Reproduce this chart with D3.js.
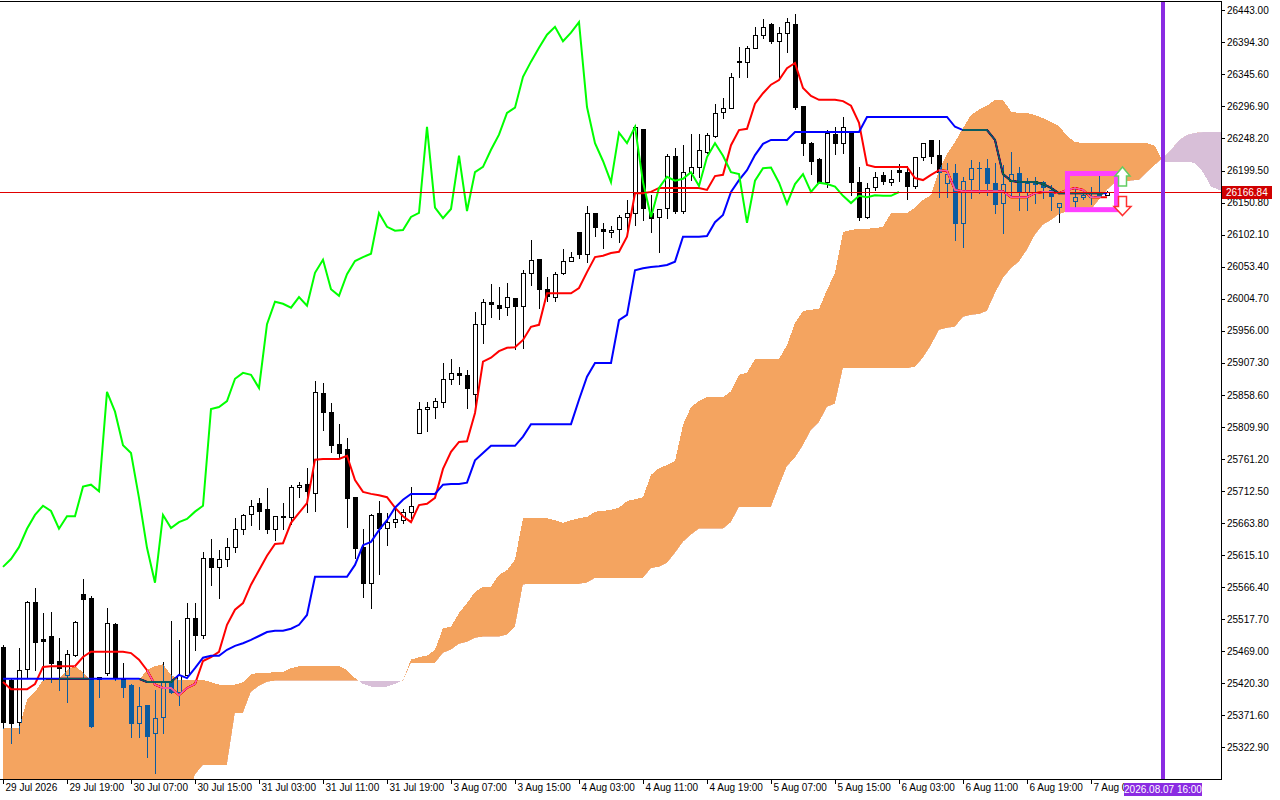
<!DOCTYPE html>
<html>
<head>
<meta charset="utf-8">
<script src="https://cdnjs.cloudflare.com/ajax/libs/d3/7.8.5/d3.min.js"></script>
<style>
html, body { margin: 0; padding: 0; background: #fff; }
svg { display: block; font-family: "Liberation Sans", Arial, sans-serif; }
</style>
</head>
<body>
<div id="grafico"></div>
<script>
// velas de 1 hora, barra 0 = 29 Jul 2026 11:00
const aberturas = [
25475,25425,25361,25442,25544,25487,25492,25454,25433,25463,
25556,25550,25427,25436,25510,25428,25418,25360,25387,25345,
25369,25424,25407,25433,25519,25494,25611,25597,25609,25627,
25655,25677,25694,25685,25655,25673,25673,25719,25723,25709,
25861,25833,25784,25776,25703,25627,25573,25679,25656,25665,
25668,25681,25801,25837,25840,25848,25883,25892,25889,25860,
25966,26000,25995,25992,26006,25994,26044,26065,26019,26007,
26044,26062,26106,26073,26135,26111,26106,26111,26129,26135,
26263,26135,26129,26143,26222,26138,26196,26205,26228,26252,
26289,26295,26366,26365,26386,26406,26422,26396,26409,26422,
26298,26241,26217,26182,26255,26241,26257,26182,26129,26175,
26193,26182,26200,26197,26176,26220,26246,26223,26181,26196,
26120,26187,26203,26203,26181,26150,26184,26196,26167,26184,
26182,26170,26144,26155,26153,26159,26159,26165,26162
];
const maximas = [
25478,25428,25474,25545,25565,25527,25529,25489,25471,25515,
25579,25553,25430,25535,25512,25451,25419,25415,25387,25410,
25452,25515,25486,25542,25542,25620,25639,25623,25641,25671,
25677,25699,25702,25717,25674,25694,25722,25726,25747,25880,
25877,25846,25814,25793,25703,25655,25677,25697,25679,25685,
25685,25719,25848,25848,25854,25907,25913,25901,25896,25985,
26004,26027,26023,26029,26006,26048,26094,26065,26038,26045,
26080,26076,26106,26146,26135,26120,26115,26132,26155,26269,
26263,26162,26141,26225,26234,26238,26255,26255,26257,26301,
26310,26348,26387,26389,26418,26430,26424,26418,26431,26437,
26298,26243,26219,26261,26266,26281,26257,26205,26181,26197,
26197,26200,26209,26206,26220,26241,26246,26246,26211,26209,
26190,26216,26213,26217,26211,26208,26228,26205,26188,26190,
26184,26178,26150,26170,26173,26165,26175,26193,26168
];
const minimas = [
25352,25329,25345,25428,25440,25425,25422,25410,25392,25461,
25428,25354,25399,25433,25425,25399,25339,25339,25308,25284,
25345,25405,25387,25432,25471,25489,25570,25550,25598,25620,
25647,25661,25655,25649,25638,25655,25662,25703,25681,25682,
25805,25772,25763,25658,25611,25551,25535,25586,25630,25658,
25664,25671,25800,25804,25823,25840,25875,25875,25839,25839,
25937,25977,25974,25980,25928,25930,26026,25991,26001,26001,
26042,26062,26067,26061,26100,26082,26099,26091,26105,26117,
26124,26106,26076,26127,26135,26135,26185,26190,26226,26251,
26279,26294,26342,26342,26386,26401,26393,26342,26380,26293,
26223,26194,26181,26175,26225,26226,26162,26124,26127,26170,
26179,26178,26184,26156,26173,26216,26211,26159,26159,26094,
26083,26158,26165,26162,26135,26105,26159,26140,26140,26150,
26158,26140,26121,26147,26143,26156,26149,26159,26162
];
const fechos = [
25361,25360,25440,25544,25483,25484,25451,25443,25465,25513,
25548,25355,25430,25512,25428,25415,25360,25386,25340,25367,
25422,25407,25433,25519,25494,25611,25597,25609,25627,25655,
25676,25690,25682,25655,25674,25674,25719,25722,25712,25863,
25833,25782,25770,25702,25626,25573,25676,25656,25665,25670,
25681,25690,25837,25840,25849,25883,25892,25889,25869,25966,
26000,25997,25991,26007,25994,26044,26064,26019,26009,26042,
26062,26068,26073,26135,26114,26108,26109,26129,26135,26266,
26143,26127,26141,26222,26138,26197,26205,26231,26254,26287,
26295,26342,26365,26386,26406,26418,26396,26409,26425,26296,
26241,26214,26182,26257,26241,26266,26182,26129,26173,26190,
26184,26187,26197,26176,26220,26241,26222,26197,26194,26120,
26184,26203,26204,26181,26149,26179,26194,26167,26181,26179,
26175,26161,26150,26161,26159,26162,26161,26161,26166.84
];

// Ichimoku: tenkan (vermelho), kijun (azul)
const tenkan = [
25422,25411,25411,25411,25419,25445,25446,25446,25446,25446,
25460,25468,25468,25468,25468,25468,25466,25456,25440,25418,
25413,25413,25402,25413,25419,25454,25460,25468,25509,25532,
25542,25570,25592,25614,25632,25633,25664,25679,25694,25760,
25761,25761,25761,25766,25729,25711,25708,25706,25703,25687,
25674,25665,25691,25693,25702,25746,25772,25787,25788,25831,
25909,25915,25925,25930,25931,25942,25962,25965,26013,26013,
26013,26013,26021,26045,26068,26070,26074,26076,26099,26165,
26165,26167,26173,26173,26173,26173,26173,26173,26170,26191,
26193,26238,26261,26263,26301,26317,26330,26337,26355,26363,
26325,26313,26307,26307,26307,26305,26298,26272,26208,26205,
26205,26205,26205,26205,26188,26185,26193,26200,26199,26170,
26168,26168,26168,26168,26168,26168,26159,26159,26159,26165,
26167,26167,26165,26170,26173,26170,26159,26159,26159
];
const kijun = [
25427,25427,25427,25427,25427,25427,25427,25427,25427,25427,
25427,25427,25427,25427,25427,25427,25427,25427,25422,25422,
25422,25422,25433,25428,25443,25459,25462,25462,25471,25477,
25481,25486,25492,25498,25500,25500,25503,25509,25524,25582,
25582,25582,25582,25582,25600,25630,25635,25653,25668,25687,
25699,25708,25708,25708,25708,25722,25723,25723,25725,25759,
25770,25781,25781,25781,25781,25795,25814,25814,25814,25814,
25814,25814,25851,25886,25907,25907,25907,25972,25980,26048,
26051,26053,26054,26056,26061,26099,26099,26099,26100,26121,
26132,26167,26185,26200,26223,26240,26246,26246,26246,26258,
26258,26258,26258,26258,26258,26258,26258,26258,26281,26281,
26281,26281,26281,26281,26281,26281,26281,26281,26281,26266,
26261,26261,26261,26261,26246,26194,26184,26182,26182,26182,
26179,26173,26165,26165,26165,26165,26165,26165,26165
];
// nuvem (senkou A e B), ja deslocada 26 barras para a frente
const senkouA = [
25352,25352,25352,25395,25407,25425,25427,25427,25440,25446,
25437,25425,25425,25425,25425,25425,25425,25425,25440,25446,
25449,25433,25425,25425,25425,25425,25422,25418,25418,25418,
25422,25434,25436,25436,25437,25437,25443,25446,25446,25446,
25446,25446,25446,25440,25428,25419,25415,25415,25415,25419,
25425,25456,25460,25462,25471,25504,25506,25527,25542,25559,
25567,25567,25585,25592,25608,25671,25671,25671,25671,25668,
25664,25668,25671,25673,25681,25682,25684,25687,25697,25700,
25703,25737,25747,25752,25758,25813,25840,25849,25855,25855,
25855,25864,25889,25892,25913,25913,25913,25913,25934,25968,
25986,25988,25989,26018,26044,26106,26109,26111,26111,26112,
26114,26135,26135,26135,26143,26155,26162,26200,26225,26243,
26264,26284,26292,26298,26307,26307,26289,26287,26287,26284,
26279,26273,26267,26252,26243,26241,26241,26241,26241,26241,
26241,26241,26241,26241,26237,26213,26213,26213,26213,26211,
26197,26175,26170,26170
];
const senkouB = [
25240,25240,25240,25240,25240,25240,25240,25240,25240,25240,
25240,25240,25240,25240,25240,25240,25240,25240,25240,25240,
25240,25240,25240,25240,25281,25296,25296,25296,25296,25375,
25375,25407,25416,25422,25424,25424,25424,25424,25424,25424,
25424,25424,25424,25424,25424,25424,25424,25424,25424,25424,
25424,25451,25451,25451,25451,25466,25471,25480,25483,25489,
25491,25491,25491,25494,25506,25570,25571,25571,25571,25571,
25571,25571,25571,25573,25580,25580,25580,25580,25580,25580,
25580,25595,25597,25603,25618,25635,25646,25655,25655,25655,
25655,25665,25688,25688,25688,25688,25688,25720,25750,25763,
25782,25805,25817,25840,25845,25899,25899,25899,25899,25899,
25899,25899,25899,25899,25901,25915,25934,25957,25960,25962,
25977,25980,25981,25986,26013,26036,26051,26061,26079,26102,
26117,26124,26133,26137,26138,26140,26140,26155,26170,26181,
26182,26184,26185,26197,26208,26219,26231,26246,26254,26257,
26258,26258,26258,26258
];

const precos = [26443.00,26394.30,26345.60,26296.90,26248.20,26199.50,26150.80,26102.10,
  26053.40,26004.70,25956.00,25907.30,25858.60,25809.90,25761.20,25712.50,25663.80,25615.10,
  25566.40,25517.70,25469.00,25420.30,25371.60,25322.90];
const barrasTempo = [0,8,16,24,32,40,48,56,64,72,80,88,96,104,112,120,128,136];
const rotulosTempo = ["29 Jul 2026","29 Jul 19:00","30 Jul 07:00","30 Jul 15:00","31 Jul 03:00",
  "31 Jul 11:00","31 Jul 19:00","3 Aug 07:00","3 Aug 15:00","4 Aug 03:00","4 Aug 11:00",
  "4 Aug 19:00","5 Aug 07:00","5 Aug 15:00","6 Aug 03:00","6 Aug 11:00","6 Aug 19:00","7 Aug 07:00"];
const precoAtual = 26166.84;
const barraLinhaVertical = 144.94;
const rotuloLinhaVertical = "2026.08.07 16:00";

// tamanhos
const largura = 1280, altura = 800;
const direita = 1222, baixo = 779;

const svg = d3.select("#grafico").append("svg")
  .attr("width", largura).attr("height", altura);
svg.append("rect").attr("width", largura).attr("height", altura).attr("fill", "#fff");

const x = d3.scaleLinear().domain([0, 152]).range([3, 1219]);
const y = d3.scaleLinear().domain([25274.62, 26458.7]).range([baixo, 0]);
const px = i => Math.round(x(i));
const py = v => Math.round(y(v));
const cx = Math.round(x(barraLinhaVertical));

const defs = svg.append("defs");
defs.append("clipPath").attr("id", "area-plot")
  .append("rect").attr("x", 0).attr("y", 2).attr("width", direita).attr("height", baixo - 2);
// regioes acima / abaixo da senkou B (para as duas cores da nuvem)
defs.append("clipPath").attr("id", "acimaB").append("path").datum(senkouB)
  .attr("d", d3.area().x((d, i) => x(i)).y0(-10).y1(d => y(d)));
defs.append("clipPath").attr("id", "abaixoB").append("path").datum(senkouB)
  .attr("d", d3.area().x((d, i) => x(i)).y0(900).y1(d => y(d)));
// os rotulos do tempo ficam por baixo da etiqueta roxa
defs.append("clipPath").attr("id", "area-tempo")
  .append("rect").attr("x", -5).attr("y", -2).attr("width", cx - 39 + 5).attr("height", 30);

const plot = svg.append("g").attr("clip-path", "url(#area-plot)");
plot.append("rect").attr("width", direita).attr("height", baixo).attr("fill", "#fff");

// velas
const idx = d3.range(fechos.length);
const velas = plot.append("g").attr("shape-rendering", "crispEdges");
velas.selectAll(".pavio").data(idx).enter().append("line")
  .attr("x1", i => px(i) + 0.5).attr("x2", i => px(i) + 0.5)
  .attr("y1", i => py(maximas[i])).attr("y2", i => py(minimas[i]) + 1)
  .attr("stroke", "#000");
const alturaCorpo = i => Math.abs(py(aberturas[i]) - py(fechos[i]));
velas.selectAll(".corpo").data(idx.filter(i => alturaCorpo(i) >= 1)).enter().append("rect")
  .attr("x", i => px(i) - 1.5).attr("width", 4)
  .attr("y", i => Math.min(py(aberturas[i]), py(fechos[i])) + 0.5)
  .attr("height", i => alturaCorpo(i))
  .attr("fill", i => fechos[i] >= aberturas[i] ? "#fff" : "#000")
  .attr("stroke", "#000");
velas.selectAll(".doji").data(idx.filter(i => alturaCorpo(i) < 1)).enter().append("rect")
  .attr("x", i => px(i) - 2).attr("width", 5)
  .attr("y", i => py(fechos[i])).attr("height", 1)
  .attr("fill", "#000");

// linhas do ichimoku
const linha = d3.line().x((d, i) => x(i)).y(d => y(d));
plot.append("path").datum(tenkan).attr("d", linha)
  .attr("fill", "none").attr("stroke", "#ff0000").attr("stroke-width", 2);
plot.append("path").datum(kijun).attr("d", linha)
  .attr("fill", "none").attr("stroke", "#0000ff").attr("stroke-width", 2);
// chikou = fecho desenhado 26 barras atras
plot.append("path").datum(fechos.slice(26)).attr("d", linha)
  .attr("fill", "none").attr("stroke", "#00ff00").attr("stroke-width", 2);

// nuvem em modo "difference" (como o XOR do MT5)
const nuvem = plot.append("g").style("mix-blend-mode", "difference");
const areaAB = d3.area().x((d, i) => x(i)).y0((d, i) => y(senkouB[i])).y1(d => y(d));
nuvem.append("path").datum(senkouA).attr("d", areaAB)
  .attr("clip-path", "url(#acimaB)").attr("fill", "rgb(11,91,159)")
  .attr("shape-rendering", "crispEdges");
nuvem.append("path").datum(senkouA).attr("d", areaAB)
  .attr("clip-path", "url(#abaixoB)").attr("fill", "rgb(39,64,39)")
  .attr("shape-rendering", "crispEdges");

// linha do preco atual
svg.append("line")
  .attr("x1", 0).attr("x2", direita)
  .attr("y1", py(precoAtual) + 0.5).attr("y2", py(precoAtual) + 0.5)
  .attr("stroke", "#e00000").attr("stroke-width", 1);

// linha vertical roxa
svg.append("rect")
  .attr("x", cx - 2).attr("y", 2)
  .attr("width", 4).attr("height", baixo - 2)
  .attr("fill", "#8a2be2");

// caixa magenta e setas
svg.append("rect")
  .attr("x", x(133.06)).attr("y", y(26195))
  .attr("width", x(139.19) - x(133.06)).attr("height", y(26140) - y(26195))
  .attr("fill", "none").attr("stroke", "#ff40ff").attr("stroke-width", 5);

const seta = d3.line();
const sx = x(140) - 0.5;
const cima = y(26205);
svg.append("path")
  .attr("d", seta([[sx, cima], [sx + 7.5, cima + 9], [sx + 4, cima + 9], [sx + 4, cima + 19],
    [sx - 4, cima + 19], [sx - 4, cima + 9], [sx - 7.5, cima + 9]]) + "Z")
  .attr("fill", "#fff").attr("stroke", "#62cc62").attr("stroke-width", 1.5);
const baixoSeta = y(26131);
svg.append("path")
  .attr("d", seta([[sx, baixoSeta], [sx + 8.5, baixoSeta - 9], [sx + 4, baixoSeta - 9], [sx + 4, baixoSeta - 19],
    [sx - 4, baixoSeta - 19], [sx - 4, baixoSeta - 9], [sx - 8.5, baixoSeta - 9]]) + "Z")
  .attr("fill", "#fff").attr("stroke", "#ff3030").attr("stroke-width", 1.5);

// moldura
const moldura = svg.append("g").attr("shape-rendering", "crispEdges").attr("stroke", "#000");
moldura.append("line").attr("x1", 0).attr("x2", direita).attr("y1", 1.5).attr("y2", 1.5);
moldura.append("line").attr("x1", direita - 0.5).attr("x2", direita - 0.5).attr("y1", 1).attr("y2", baixo + 1);
moldura.append("line").attr("x1", 0).attr("x2", direita).attr("y1", baixo + 0.5).attr("y2", baixo + 0.5);

// eixo dos precos
const eixoY = svg.append("g")
  .attr("transform", `translate(${direita - 1},0)`)
  .call(d3.axisRight(y).tickValues(precos).tickFormat(d3.format(".2f")).tickSize(4).tickSizeOuter(0));
eixoY.select(".domain").remove();
eixoY.attr("font-family", "Liberation Sans, Arial, sans-serif").attr("font-size", 10);
eixoY.selectAll("text").attr("x", 6).attr("fill", "#000");
eixoY.selectAll("line").attr("shape-rendering", "crispEdges");

// eixo do tempo
const eixoX = svg.append("g")
  .attr("transform", `translate(0,${baixo})`)
  .attr("clip-path", "url(#area-tempo)")
  .call(d3.axisBottom(x).tickValues(barrasTempo).tickFormat((d, i) => rotulosTempo[i]).tickSize(5).tickSizeOuter(0));
eixoX.select(".domain").remove();
eixoX.attr("font-family", "Liberation Sans, Arial, sans-serif").attr("font-size", 10);
eixoX.selectAll("text").attr("text-anchor", "start").attr("x", 2).attr("y", 5).attr("fill", "#000");
eixoX.selectAll("line").attr("shape-rendering", "crispEdges");

// etiqueta do preco atual
svg.append("rect")
  .attr("x", direita).attr("y", py(precoAtual) - 6)
  .attr("width", 50).attr("height", 13)
  .attr("fill", "#d00000");
svg.append("text")
  .attr("x", direita + 4).attr("y", py(precoAtual) + 4)
  .attr("fill", "#fff").style("font-size", "10px")
  .text(d3.format(".2f")(precoAtual));

// etiqueta da linha vertical
svg.append("rect")
  .attr("x", cx - 39).attr("y", baixo + 4)
  .attr("width", 78).attr("height", 13)
  .attr("fill", "#8a2be2");
svg.append("text")
  .attr("x", cx).attr("y", baixo + 14)
  .attr("text-anchor", "middle")
  .attr("fill", "#fff").style("font-size", "10px")
  .text(rotuloLinhaVertical);
</script>
</body>
</html>
